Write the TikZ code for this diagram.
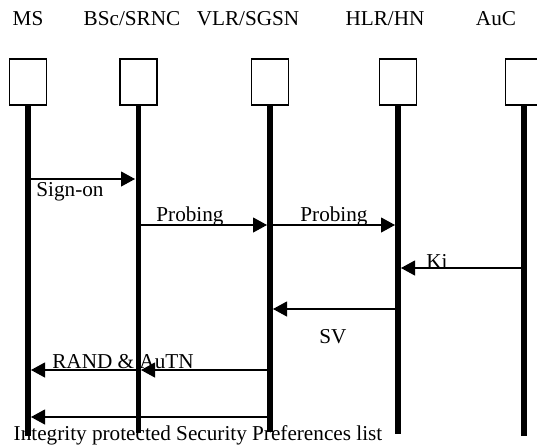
\documentclass[tikz,border=0pt]{standalone}
\usepackage{fontspec}
\setmainfont{Liberation Serif}
\usetikzlibrary{arrows.meta}
\begin{document}
\begin{tikzpicture}
  [x=0.5pt,y=-0.5pt,
   every node/.style={font=\fontsize{10.6}{12}\selectfont,inner sep=0pt},
   box/.style={draw,line width=0.7pt,minimum width=18.5pt,minimum height=23pt},
   lifeline/.style={line width=2.8pt},
   msg/.style={line width=0.55pt,-{Triangle[length=7pt,width=7.5pt]}}]
  \useasboundingbox (0,0) rectangle (537,446);

  \node[anchor=base] (msname)  at (28,25)  {MS};
  \node[anchor=base] (bscname) at (132,25) {BSc/SRNC};
  \node[anchor=base] (vlrname) at (248,25) {VLR/SGSN};
  \node[anchor=base] (hlrname) at (385,25) {HLR/HN};
  \node[anchor=base] (aucname) at (496,25) {AuC};

  \node[box] (ms)  at (28,82)    {};
  \node[box] (bsc) at (138.5,82) {};
  \node[box] (vlr) at (270,82)   {};
  \node[box] (hlr) at (398,82)   {};
  \node[box] (auc) at (524,82)   {};

  \foreach \n/\y in {ms/436,bsc/433,vlr/432,hlr/434,auc/436}
    \draw[lifeline] (\n.south) -- (\n.south |- 0,\y);

  \foreach \n/\x/\y in {ms1/28/179,bsc1/135/179,
                        bsc2/138.5/225,vlr2/267/225,
                        vlr3/270/225,hlr3/395/225,
                        auc4/524/268,hlr4/401/268,
                        hlr5/398/309,vlr5/273/309,
                        vlr6/270/370,bsc6/141/370,bsc6b/138.5/370,ms6/31/370,
                        vlr7/270/417,ms7/31/417}
    \coordinate (\n) at (\x,\y);

  \draw[msg] (ms1) -- (bsc1);
  \draw[msg] (bsc2) -- (vlr2);
  \draw[msg] (vlr3) -- (hlr3);
  \draw[msg] (auc4) -- (hlr4);
  \draw[msg] (hlr5) -- (vlr5);
  \draw[msg] (vlr6) -- (bsc6);
  \draw[msg] (bsc6b) -- (ms6);
  \draw[msg] (vlr7) -- (ms7);

  \node[anchor=base] (signon) at (70,196)  {Sign-on};
  \node[anchor=base] (probe1) at (190,221) {Probing};
  \node[anchor=base] (probe2) at (334,221) {Probing};
  \node[anchor=base] (ki)     at (437,268) {Ki};
  \node[anchor=base] (sv)     at (333,343) {SV};
  \node[anchor=base] (rand)   at (123,368) {RAND \& AuTN};
  \node[anchor=base] (integ)  at (198,440) {Integrity protected Security Preferences list};
\end{tikzpicture}
\end{document}
